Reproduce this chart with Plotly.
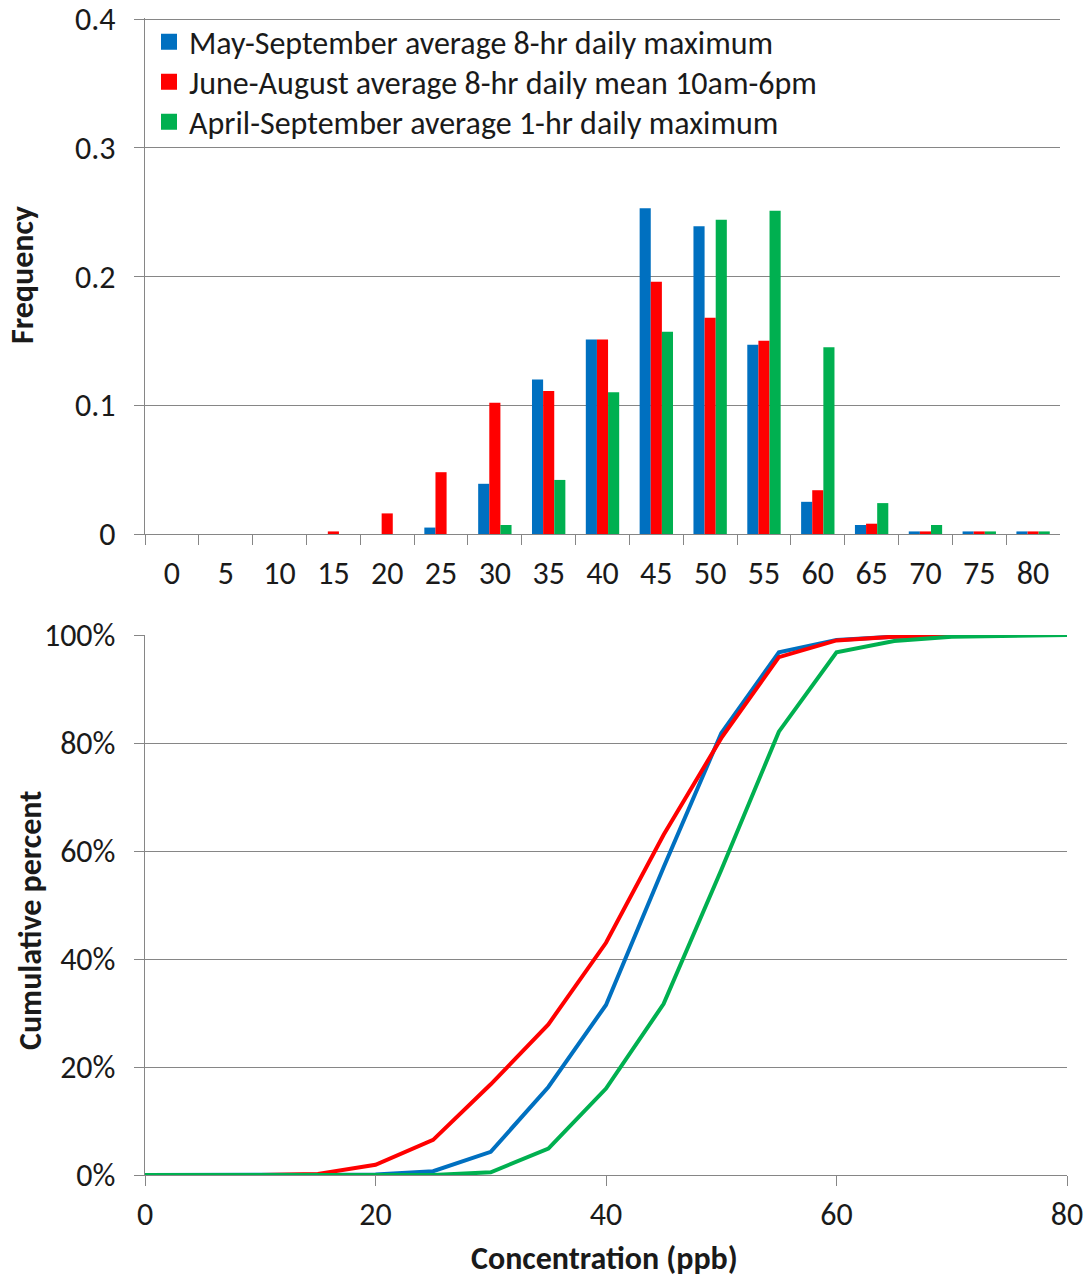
import plotly.graph_objects as go

# ---------------- data ----------------
categories = [0, 5, 10, 15, 20, 25, 30, 35, 40, 45, 50, 55, 60, 65, 70, 75, 80]
cat_labels = [str(c) for c in categories]

series_names = [
    "May-September average 8-hr daily maximum",
    "June-August average 8-hr daily mean 10am-6pm",
    "April-September average 1-hr daily maximum",
]
series_colors = ["#0070C0", "#FF0000", "#00B050"]

freq_may_sep = [0, 0, 0, 0, 0, 0.005, 0.039, 0.120, 0.151, 0.253, 0.239, 0.147, 0.025, 0.007, 0.002, 0.002, 0.002]
freq_jun_aug = [0, 0, 0, 0.002, 0.016, 0.048, 0.102, 0.111, 0.151, 0.196, 0.168, 0.150, 0.034, 0.008, 0.002, 0.002, 0.002]
freq_apr_sep = [0, 0, 0, 0, 0, 0, 0.007, 0.042, 0.110, 0.157, 0.244, 0.251, 0.145, 0.024, 0.007, 0.002, 0.002]

concentration = [0, 5, 10, 15, 20, 25, 30, 35, 40, 45, 50, 55, 60, 65, 70, 75, 80]
cum_may_sep = [0, 0, 0, 0, 0.1, 0.7, 4.3, 16.3, 31.5, 57.0, 81.8, 96.8, 99.1, 99.7, 99.9, 100, 100]
cum_jun_aug = [0, 0, 0, 0.2, 1.9, 6.5, 16.8, 27.9, 43.0, 63.0, 80.9, 95.9, 99.0, 99.7, 99.9, 100, 100]
cum_apr_sep = [0, 0, 0, 0, 0, 0, 0.5, 4.9, 16.0, 31.7, 56.5, 82.1, 96.8, 98.9, 99.7, 99.9, 100]

freq_ticks = [0, 0.1, 0.2, 0.3, 0.4]
freq_tick_text = ["0", "0.1", "0.2", "0.3", "0.4"]
cum_ticks = [0, 20, 40, 60, 80, 100]
cum_tick_text = ["0%", "20%", "40%", "60%", "80%", "100%"]
conc_ticks = [0, 20, 40, 60, 80]

# ---------------- layout helpers ----------------
W, H = 1089, 1281


def px(x):
    return x / W


def py(y):
    return 1 - y / H


FONT = "Carlito, Calibri, Lato, sans-serif"
GRID = "#868686"
TXT = "#1a1a1a"
FS = 32

fig = go.Figure()

legend_ids = ["legend", "legend2", "legend3"]
freqs = [freq_may_sep, freq_jun_aug, freq_apr_sep]
for name, col, f, lg in zip(series_names, series_colors, freqs, legend_ids):
    fig.add_trace(go.Bar(x=cat_labels, y=f, name=name, marker=dict(color=col, line=dict(width=0)),
                         showlegend=False, xaxis="x", yaxis="y"))
    # legend swatch
    fig.add_trace(go.Scatter(x=[None], y=[None], mode="markers", name=name, legend=lg,
                             marker=dict(symbol="square", size=16, color=col),
                             showlegend=True, xaxis="x", yaxis="y"))

cums = [cum_may_sep, cum_jun_aug, cum_apr_sep]
for name, col, c in zip(series_names, series_colors, cums):
    fig.add_trace(go.Scatter(x=concentration, y=c, mode="lines", name=name,
                             line=dict(color=col, width=4), showlegend=False,
                             xaxis="x2", yaxis="y2"))

axis_common = dict(showline=True, linecolor=GRID, linewidth=1.3, ticks="outside", ticklen=10,
                   tickcolor=GRID, tickwidth=1.3, tickfont=dict(family=FONT, size=FS, color=TXT),
                   zeroline=False, automargin=False, ticklabeloverflow="allow")


def legend_box(ycenter):
    return dict(x=px(149), y=py(ycenter), xanchor="left", yanchor="middle",
                bgcolor="rgba(0,0,0,0)", font=dict(family=FONT, size=FS, color=TXT),
                itemsizing="trace")


# top frequency axis: range extended a little past 0.4 so the 0.4 gridline is drawn
freq_top = 0.401
top_px = 534 - (534 - 19) * freq_top / 0.4

fig.update_layout(
    width=W, height=H, margin=dict(l=0, r=0, t=0, b=0, autoexpand=False),
    paper_bgcolor="white", plot_bgcolor="white",
    barmode="group", bargap=0.38, bargroupgap=0,
    font=dict(family=FONT, color=TXT),
    xaxis=dict(domain=[px(145), px(1060)], anchor="y", type="category",
               categoryorder="array", categoryarray=cat_labels,
               tickson="boundaries", showgrid=False, ticklabelstandoff=10, **axis_common),
    yaxis=dict(domain=[py(534), py(top_px)], anchor="x", range=[0, freq_top],
               tickvals=freq_ticks, ticktext=freq_tick_text,
               showgrid=True, gridcolor=GRID, gridwidth=1.3, ticklabelstandoff=12, **axis_common),
    xaxis2=dict(domain=[px(145), px(1067)], anchor="y2", range=[0, 80], tickvals=conc_ticks,
                showgrid=False, ticklabelstandoff=0, **axis_common),
    yaxis2=dict(domain=[py(1175), py(635)], anchor="x2", range=[0, 100.005], tickvals=cum_ticks,
                ticktext=cum_tick_text, showgrid=True, gridcolor=GRID, gridwidth=1.3,
                ticklabelstandoff=12, **axis_common),
    legend=legend_box(42),
    legend2=legend_box(82),
    legend3=legend_box(122),
    annotations=[
        dict(text="<b>Frequency</b>", x=px(22), y=py(275), xref="paper", yref="paper",
             xanchor="center", yanchor="middle",
             textangle=-90, showarrow=False, font=dict(family=FONT, size=FS, color=TXT)),
        dict(text="<b>Cumulative percent</b>", x=px(30), y=py(921), xref="paper", yref="paper",
             xanchor="center", yanchor="middle",
             textangle=-90, showarrow=False, font=dict(family=FONT, size=FS, color=TXT)),
        dict(text="<b>Concentration (ppb)</b>", x=px(604), y=py(1258), xref="paper", yref="paper",
             xanchor="center", yanchor="middle",
             showarrow=False, font=dict(family=FONT, size=FS, color=TXT)),
    ],
)

fig.write_html("out.html", config={"displayModeBar": False},
               post_script="document.body.style.margin='0px';")
